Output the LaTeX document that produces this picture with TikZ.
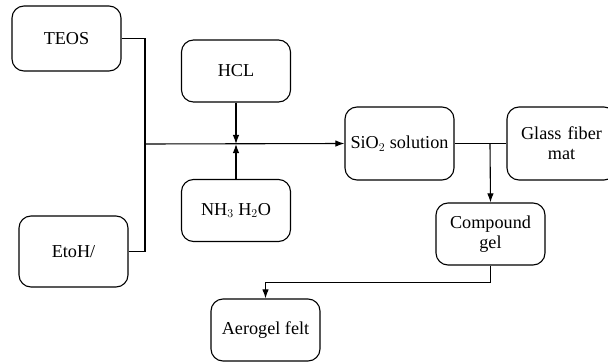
\documentclass[tikz,border=0pt]{standalone}
\usepackage{fontspec}
\setmainfont{Liberation Serif}
\usetikzlibrary{arrows.meta, positioning, calc}

\begin{document}
\begin{tikzpicture}[
        x=1pt, y=-1pt,
        font=\fontsize{18.2}{20}\selectfont,
        caixa/.style={draw, line width=1.1pt, rounded corners=12pt, align=center, inner sep=2pt,
            minimum width=109pt, minimum height=#1},
        caixa/.default=62pt,
        seta/.style={-{Latex[length=3.2mm, width=2.3mm]}, line width=1.1pt},
        linha/.style={line width=1.1pt}
    ]
        \useasboundingbox (0,0) rectangle (608,364);

        % entradas
        \node[caixa=65pt] (teos) at (66.5,38.5) {TEOS};
        \node[caixa=71pt] (etoh) at (73.5,251.5) {EtoH/};
        \node[caixa] (hcl) at (236,71) {HCL};
        \node[caixa] (amonia) at (236,210.5) {NH$_3$ H$_2$O};

        \node[caixa=73pt] (sol) at (399.5,143.5) {SiO$_2$ solution};
        \node[caixa=73pt, text width=100pt] (fibra) at (561.5,143.5) {Glass fiber\\mat};
        \node[caixa, text width=100pt] (gel) at (490.5,234) {Compound\\gel};
        \node[caixa] (felt) at (265.5,330) {Aerogel felt};

        \coordinate (junta) at (145,144);
        \coordinate (ramo) at (490,144);
        \coordinate (meio) at (236,144);

        \draw[linha] (teos.east) -| (junta);
        \draw[linha] (etoh.east) -| (junta);
        \draw[seta] (junta) -- (sol.west);
        \draw[seta] (hcl.south) -- (meio);
        \draw[seta] (amonia.north) -- (meio);
        \draw[linha] (sol.east) -- (fibra.west);
        \draw[seta] (ramo) -- (gel.north);
        \draw[seta] (gel.south) -- ++(0,17) -| (felt.north);
    \end{tikzpicture}
\end{document}
